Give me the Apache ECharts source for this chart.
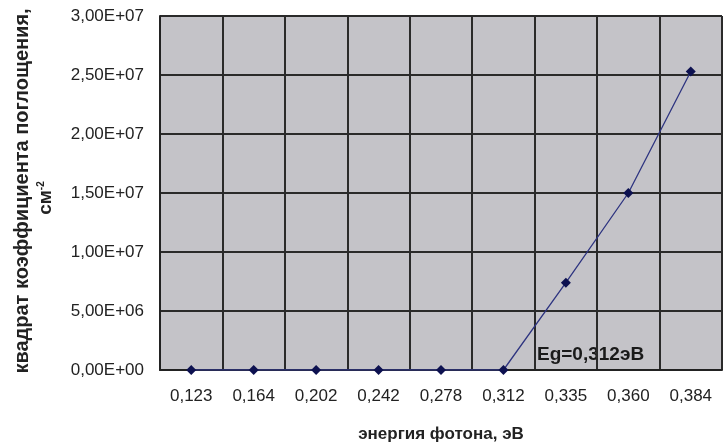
<!DOCTYPE html>
<html><head><meta charset="utf-8">
<script src="https://cdn.jsdelivr.net/npm/echarts@6/dist/echarts.min.js"></script>
<style>html,body{margin:0;padding:0;background:#fff}#c{width:723px;height:443px}</style>
</head><body><div id="c"></div>
<script>
var categories = ['0,123','0,164','0,202','0,242','0,278','0,312','0,335','0,360','0,384'];
var values = [0, 0, 0, 0, 0, 0, 7.4e6, 1.5e7, 2.53e7];
var yTicks = [0, 5e6, 1e7, 1.5e7, 2e7, 2.5e7, 3e7];
var annotation = 'Eg=0,312эВ';
var xName = 'энергия фотона, эВ';
var yName1 = 'квадрат коэффициента поглощения,';
var yName2 = 'см';

function fmt(v){
  var e = v === 0 ? 0 : Math.floor(Math.log10(v));
  var m = v === 0 ? 0 : v / Math.pow(10, e);
  return m.toFixed(2).replace('.', ',') + 'E+' + (e < 10 ? '0' + e : e);
}
var FF = '"Liberation Sans", Arial, sans-serif';
var chart = echarts.init(document.getElementById('c'));
chart.setOption({
  backgroundColor: '#fff',
  animation: false,
  textStyle: {fontFamily: FF},
  grid: {left: 160, right: 1, top: 16, bottom: 73, containLabel: false, outerBoundsMode: 'none',
         show: true, backgroundColor: '#c4c3c8', borderWidth: 0},
  xAxis: {
    type: 'category', data: categories, boundaryGap: true,
    axisLine: {lineStyle: {color: '#222', width: 2}},
    axisTick: {show: false},
    axisLabel: {color: '#222', fontSize: 17, margin: 18},
    splitLine: {show: true, lineStyle: {color: '#2a2a2a', width: 2}},
    name: xName, nameLocation: 'middle', nameGap: 56,
    nameTextStyle: {color: '#222', fontSize: 17, fontWeight: 'bold'}
  },
  yAxis: {
    type: 'value', min: 0, max: 3e7, interval: 5e6,
    axisLine: {show: true, lineStyle: {color: '#222', width: 2}},
    axisTick: {show: false},
    axisLabel: {color: '#222', fontSize: 17, margin: 16, formatter: function(v){ return fmt(v); }},
    splitLine: {show: true, lineStyle: {color: '#2a2a2a', width: 2}}
  },
  series: [{
    type: 'line', data: values,
    symbol: 'diamond', symbolSize: 10,
    lineStyle: {color: '#2e3480', width: 1.3},
    itemStyle: {color: '#0d1150'}
  }],
  graphic: [{
    type: 'text', left: 537, top: 345,
    style: {text: annotation, fill: '#1a1a1a', font: 'bold 19px ' + FF}
  }, {
    type: 'text', x: 22, y: 191, rotation: Math.PI / 2,
    style: {text: yName1, fill: '#222', font: 'bold 20px ' + FF, align: 'center', verticalAlign: 'middle'}
  }, {
    type: 'text', x: 46, y: 198, rotation: Math.PI / 2,
    style: {text: yName2 + '{s|-2}', fill: '#222', font: 'bold 19px ' + FF, align: 'center', verticalAlign: 'middle',
      rich: {s: {font: 'bold 10px ' + FF, fill: '#222', verticalAlign: 'top', padding: [0, 0, 8, 0]}}}
  }]
});
</script></body></html>
